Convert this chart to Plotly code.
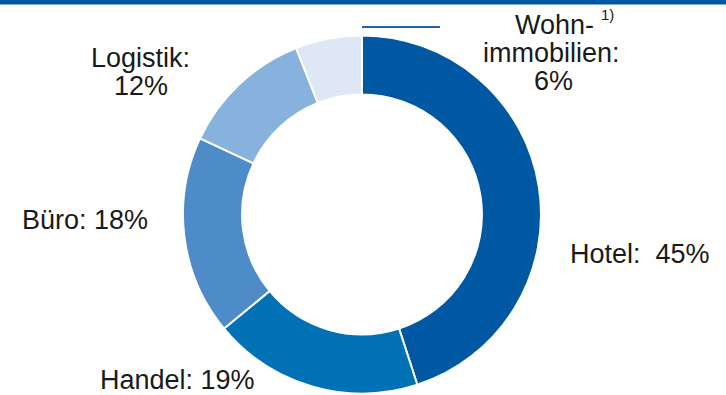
import plotly.graph_objects as go

W, H = 726, 395

categories = ["Hotel", "Handel", "Büro", "Logistik", "Wohnimmobilien"]
values = [45, 19, 18, 12, 6]
colors = ["#0058A3", "#0071B5", "#4E8CC9", "#88B2DE", "#DDE7F5"]

# label lines per category (text), shown as annotations
label_lines = {
    "Hotel": ["Hotel:  45%"],
    "Handel": ["Handel: 19%"],
    "Büro": ["Büro: 18%"],
    "Logistik": ["Logistik:", "12%"],
    "Wohnimmobilien": ["Wohn-", "immobilien:", "6%"],
}
# pixel positions (center x, cap-middle y) of each label line
label_pos = {
    "Hotel": [(640, 254)],
    "Handel": [(177, 380)],
    "Büro": [(85, 220)],
    "Logistik": [(140, 58), (141, 86)],
    "Wohnimmobilien": [(554, 25), (551, 53), (553, 81)],
}

def px(x):
    return x / W

def py(y):
    return 1 - y / H

fig = go.Figure()
fig.add_trace(go.Pie(
    labels=categories,
    values=values,
    sort=False,
    direction="clockwise",
    rotation=0,
    hole=0.67,
    marker=dict(colors=colors, line=dict(color="white", width=2)),
    textinfo="none",
    hoverinfo="label+percent",
    showlegend=False,
    domain=dict(x=[px(183), px(541)], y=[py(394), py(35)]),
))

font = dict(family="Liberation Sans, Arial, sans-serif", size=27, color="#1a1a1a")
annotations = []
for cat in categories:
    for text, (x, y) in zip(label_lines[cat], label_pos[cat]):
        annotations.append(dict(
            text=text, x=px(x), y=py(y), xref="paper", yref="paper",
            xanchor="center", yanchor="middle", showarrow=False, font=font,
        ))
annotations.append(dict(
    text="1)", x=px(607), y=py(15), xref="paper", yref="paper",
    xanchor="center", yanchor="middle", showarrow=False,
    font=dict(family="Liberation Sans, Arial, sans-serif", size=15, color="#1a1a1a"),
))

shapes = [
    dict(type="rect", xref="paper", yref="paper", x0=0, x1=1, y0=py(4.5), y1=1,
         fillcolor="#0058A3", line=dict(width=0)),
    dict(type="line", xref="paper", yref="paper", x0=px(362), x1=px(440),
         y0=py(27), y1=py(27), line=dict(color="#1F64AC", width=2)),
]

fig.update_layout(
    width=W, height=H,
    margin=dict(l=0, r=0, t=0, b=0),
    paper_bgcolor="white", plot_bgcolor="white",
    annotations=annotations,
    shapes=shapes,
)

fig.write_html(
    "out.html",
    config={"displayModeBar": False},
    post_script="document.body.style.margin='0';document.body.style.overflow='hidden';",
)
